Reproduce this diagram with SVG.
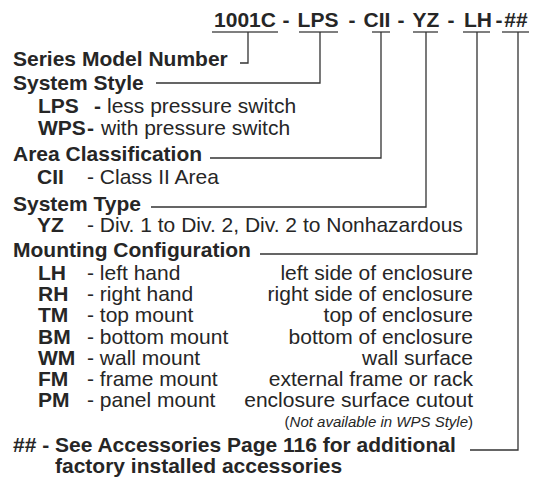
<svg xmlns="http://www.w3.org/2000/svg" width="538" height="485" viewBox="0 0 538 485">
<style>
text{font-family:"Liberation Sans",Arial,sans-serif;font-size:21px;fill:#262626}
.b{font-weight:bold}
.e{text-anchor:end}
.m{text-anchor:middle}
.s{font-size:15px}
.i{font-style:italic}
.ln{stroke:#333;stroke-width:1.3;fill:none}
.ul{stroke:#555;stroke-width:1.6;fill:none}
</style>
<rect width="538" height="485" fill="#fff"/>
<g id="title">
<text class="b m" x="245" y="27">1001C</text>
<text class="b m" x="286" y="27">-</text>
<text class="b m" x="318" y="27">LPS</text>
<text class="b m" x="352" y="27">-</text>
<text class="b m" x="377" y="27">CII</text>
<text class="b m" x="401" y="27">-</text>
<text class="b m" x="426" y="27">YZ</text>
<text class="b m" x="451" y="27">-</text>
<text class="b m" x="478" y="27">LH</text>
<text class="b m" x="499" y="27">-</text>
<text class="b m" x="516" y="27">##</text>
</g>
<g id="connectors">
<path class="ul" d="M212 32H278M299 32H338M372 32H390M413 32H438M463 32H490M502 32H529"/>
<path class="ln" d="M248 32V63H240"/>
<path class="ln" d="M320 32V83H156"/>
<path class="ln" d="M381 32V158H210"/>
<path class="ln" d="M426 32V207H151"/>
<path class="ln" d="M477 32V254H260"/>
<path class="ln" d="M518 32V450H470"/>
</g>
<g id="series">
<text class="b" x="13" y="66">Series Model Number</text>
</g>
<g id="system-style">
<text class="b" x="13" y="90">System Style</text>
<text class="b" x="38" y="113">LPS</text><text class="b" x="94" y="113">-</text><text x="107" y="113">less pressure switch</text>
<text class="b" x="38" y="135">WPS</text><text class="b" x="87" y="135">-</text><text x="101" y="135">with pressure switch</text>
</g>
<g id="area">
<text class="b" x="13" y="161">Area Classification</text>
<text class="b" x="37" y="184">CII</text><text x="87" y="184">- Class II Area</text>
</g>
<g id="system-type">
<text class="b" x="13" y="211">System Type</text>
<text class="b" x="37" y="232">YZ</text><text x="87" y="232">- Div. 1 to Div. 2, Div. 2 to Nonhazardous</text>
</g>
<g id="mounting">
<text class="b" x="13" y="257">Mounting Configuration</text>
<text class="b" x="38" y="280">LH</text><text x="87" y="280">- left hand</text><text class="e" x="473" y="280">left side of enclosure</text>
<text class="b" x="38" y="301">RH</text><text x="87" y="301">- right hand</text><text class="e" x="473" y="301">right side of enclosure</text>
<text class="b" x="38" y="322">TM</text><text x="87" y="322">- top mount</text><text class="e" x="473" y="322">top of enclosure</text>
<text class="b" x="38" y="343.5">BM</text><text x="87" y="343.5">- bottom mount</text><text class="e" x="473" y="343.5">bottom of enclosure</text>
<text class="b" x="38" y="365">WM</text><text x="87" y="365">- wall mount</text><text class="e" x="473" y="365">wall surface</text>
<text class="b" x="38" y="386">FM</text><text x="87" y="386">- frame mount</text><text class="e" x="473" y="386">external frame or rack</text>
<text class="b" x="38" y="407">PM</text><text x="87" y="407">- panel mount</text><text class="e" x="473" y="407">enclosure surface cutout</text>
<text class="e s" x="473" y="427">(<tspan class="i">Not available in WPS Style</tspan>)</text>
</g>
<g id="accessories">
<text class="b" x="13" y="452">## - See Accessories Page 116 for additional</text>
<text class="b" x="55" y="473">factory installed accessories</text>
</g>
</svg>
